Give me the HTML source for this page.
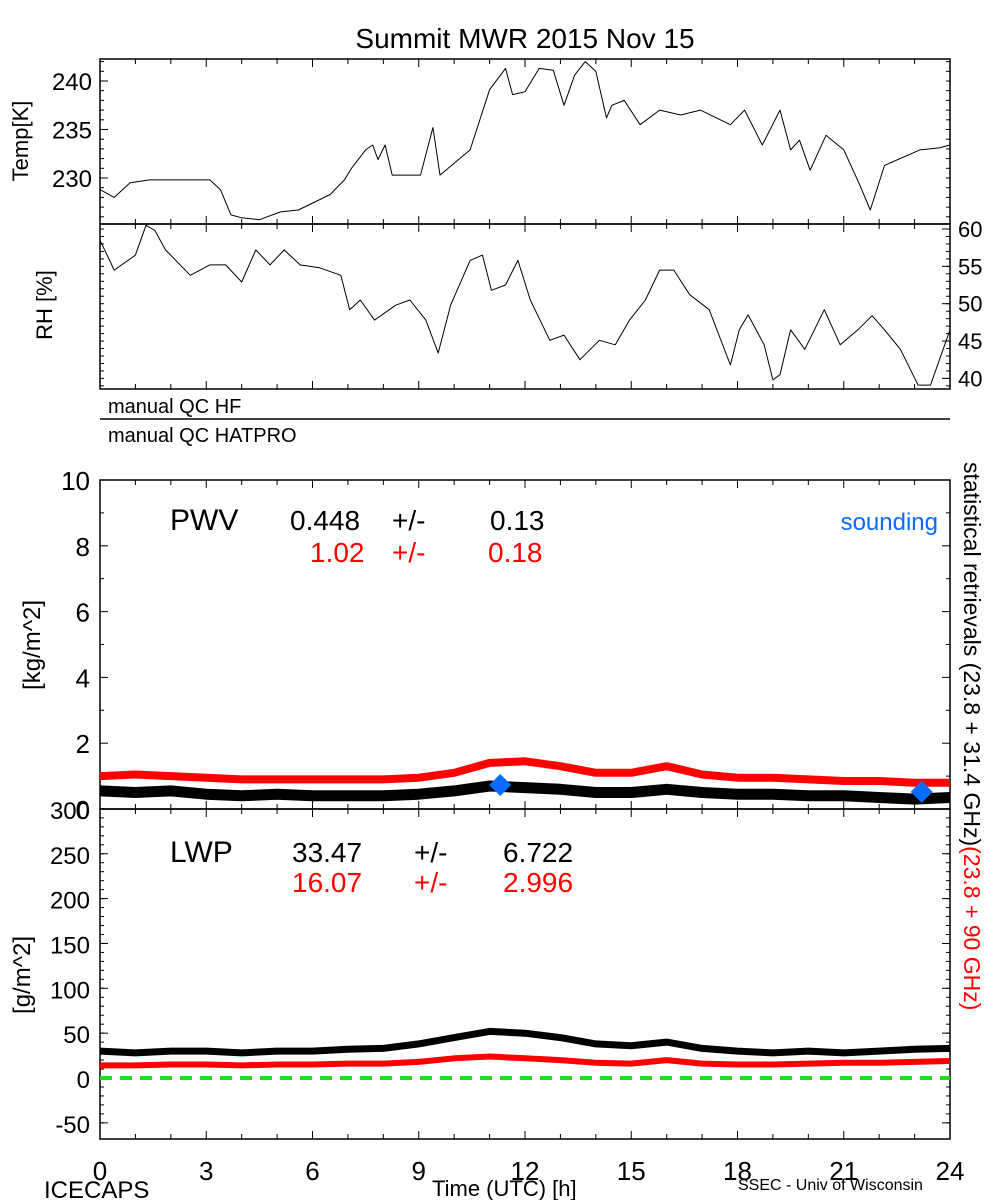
<!DOCTYPE html>
<html><head><meta charset="utf-8"><style>
html,body{margin:0;padding:0;background:#fff;}
svg{display:block;font-family:"Liberation Sans",sans-serif;}
</style></head><body>
<svg id="chart" width="1000" height="1200" viewBox="0 0 1000 1200">
<text x="525" y="48" font-size="28" text-anchor="middle">Summit MWR 2015 Nov 15</text>
</svg>
<script>
const hoursT=[0,0.4,0.85,1.4,3.1,3.4,3.7,4,4.5,5.1,5.6,6.5,6.9,7.1,7.5,7.7,7.85,8.05,8.25,9.05,9.4,9.6,10.45,11,11.45,11.65,12,12.4,12.8,13.1,13.4,13.7,14,14.3,14.45,14.8,15.25,15.8,16.4,16.95,17.8,18.2,18.7,19.2,19.5,19.75,20.05,20.5,21,21.45,21.75,22.15,23.15,23.7,24];
const tempK=[228.8,228,229.5,229.8,229.8,228.8,226.2,225.9,225.7,226.5,226.7,228.3,229.8,231,232.9,233.4,231.9,233.4,230.3,230.3,235.2,230.3,232.9,239.1,241.3,238.6,238.9,241.3,241.1,237.5,240.6,242,241,236.2,237.5,238,235.5,237,236.5,237,235.5,237,233.4,237,232.9,233.9,230.8,234.4,232.9,229.3,226.7,231.3,232.9,233.1,233.4];
const hoursRH=[0,0.4,1,1.3,1.55,1.85,2.55,3.1,3.55,4,4.4,4.8,5.2,5.65,6.2,6.8,7.05,7.35,7.75,8.35,8.75,9.2,9.55,9.9,10.45,10.8,11.05,11.45,11.8,12.15,12.7,13.1,13.55,14.1,14.55,14.95,15.4,15.8,16.2,16.65,17.2,17.8,18.05,18.3,18.75,19,19.2,19.5,19.9,20.45,20.9,21.4,21.8,22.15,22.6,23.1,23.45,24];
const rhPct=[58.5,54.5,56.5,60.5,59.8,57.2,53.8,55.2,55.2,52.9,57.2,55.2,57.2,55.2,54.8,53.8,49.2,50.5,47.8,49.8,50.5,47.8,43.4,49.8,55.8,56.5,51.8,52.5,55.8,50.5,45.1,45.8,42.5,45.1,44.5,47.8,50.5,54.5,54.5,51.2,49.2,41.8,46.5,48.5,44.5,39.8,40.5,46.5,43.9,49.2,44.5,46.5,48.4,46.5,43.9,39.1,39.1,46.5];
const hoursH=[0,1,2,3,4,5,6,7,8,9,10,11,12,13,14,15,16,17,18,19,20,21,22,23,24];
const pwvHF=[0.55,0.5,0.55,0.45,0.4,0.45,0.4,0.4,0.4,0.45,0.55,0.7,0.65,0.6,0.5,0.5,0.6,0.5,0.45,0.45,0.4,0.4,0.35,0.3,0.35];
const pwvHAT=[1.0,1.05,1.0,0.95,0.9,0.9,0.9,0.9,0.9,0.95,1.1,1.4,1.45,1.3,1.1,1.1,1.3,1.05,0.95,0.95,0.9,0.85,0.85,0.8,0.8];
const soundHours=[11.3,23.2];
const soundPwv=[0.73,0.52];
const lwpHF=[30,28,30,30,28,30,30,32,33,38,45,52,50,45,38,36,40,33,30,28,30,28,30,32,33];
const lwpHAT=[14,14,15,15,14,15,15,16,16,18,22,24,22,20,17,16,20,16,15,15,16,17,17,18,19];
const xTicks=[0,3,6,9,12,15,18,21,24];
const tempTicks=[230,235,240];
const rhTicks=[40,45,50,55,60];
const pwvTicks=[0,2,4,6,8,10];
const lwpTicks=[-50,0,50,100,150,200,250,300];

const NS="http://www.w3.org/2000/svg";
const svg=document.getElementById('chart');
const X0=100,X1=950;
const xs=h=>X0+(X1-X0)*h/24;
const yT=v=>178-(v-230)*9.7;
const yRH=v=>229+(60-v)*7.47;
const yP=v=>809-v*32.9;
const yL=v=>1078-v*0.897;
function el(tag,attrs,parent){const e=document.createElementNS(NS,tag);for(const k in attrs)e.setAttribute(k,attrs[k]);(parent||svg).appendChild(e);return e;}
function txt(x,y,s,size,anchor,fill){const t=el('text',{x:x,y:y,'font-size':size,'text-anchor':anchor||'start',fill:fill||'#000'});t.textContent=s;return t;}
function line(x1,y1,x2,y2,w,c){return el('line',{x1:x1,y1:y1,x2:x2,y2:y2,stroke:c||'#000','stroke-width':w||1});}
function path(xsArr,ysArr,yf,color,w,name){let d='';for(let i=0;i<xsArr.length;i++){d+=(i?'L':'M')+xs(xsArr[i]).toFixed(1)+','+yf(ysArr[i]).toFixed(1);}const p=el('path',{d:d,fill:'none',stroke:color,'stroke-width':w,'stroke-linejoin':'round'});


return p;}
function frame(top,bot,name){const r=el('rect',{x:X0,y:top,width:X1-X0,height:bot-top,fill:'none',stroke:'#000','stroke-width':1.5});


for(let h=0;h<=24;h++){const L=(h%3==0)?8:5;line(xs(h),top,xs(h),top+L);line(xs(h),bot,xs(h),bot-L);}}
function stat(parts,xsPos,y,color,name){parts.forEach((s,i)=>{const t=txt(xsPos[i],y,s,28,'start',color);

});}

// Temp panel
frame(59,224,'temp-panel');
tempTicks.forEach(v=>{line(X0,yT(v),X0+8,yT(v));const t=txt(92,yT(v)+9,String(v),24,'end');

});
for(let v=226;v<=242;v++){line(X0,yT(v),X0+4,yT(v));line(X1,yT(v),X1-4,yT(v));}
{const t=txt(0,0,'Temp[K]',22,'middle');t.setAttribute('transform','translate(28,141) rotate(-90)');

}
path(hoursT,tempK,yT,'#000',1,'temp-line');

// RH panel
frame(224,389,'rh-panel');
rhTicks.forEach(v=>{line(X1,yRH(v),X1-8,yRH(v));const t=txt(958,yRH(v)+8,String(v),22,'start');

});
for(let v=39;v<=60;v++){line(X0,yRH(v),X0+4,yRH(v));line(X1,yRH(v),X1-4,yRH(v));}
{const t=txt(0,0,'RH [%]',22,'middle');t.setAttribute('transform','translate(52,305) rotate(-90)');

}
path(hoursRH,rhPct,yRH,'#000',1,'rh-line');

// QC bands
{let t=txt(108,413,'manual QC HF',20);
line(X0,419,X1,419,1.5);
t=txt(108,442,'manual QC HATPRO',20);}

// PWV panel
frame(480,809,'pwv-panel');
pwvTicks.forEach(v=>{line(X0,yP(v),X0+8,yP(v));line(X1,yP(v),X1-8,yP(v));const t=txt(90,yP(v)+10,String(v),26,'end');

});
for(let v=1;v<10;v+=2){line(X0,yP(v),X0+4,yP(v));line(X1,yP(v),X1-4,yP(v));}
{const t=txt(0,0,'[kg/m^2]',24,'middle');t.setAttribute('transform','translate(40,645) rotate(-90)');

}
path(hoursH,pwvHAT,yP,'#ff0000',8,'pwv-hatpro-line');
path(hoursH,pwvHF,yP,'#000',11,'pwv-hf-line');
soundHours.forEach((h,i)=>{const cx=xs(h),cy=yP(soundPwv[i]);const d=el('polygon',{points:`${cx},${cy-11} ${cx+11},${cy} ${cx},${cy+11} ${cx-11},${cy}`,fill:'#0a6cff'});

});
{let t=txt(170,530,'PWV',30);
t=txt(938,530,'sounding',24,'end','#0a6cff');}
stat(['0.448','+/-','0.13'],[290,392,490],530,'#000','pwv-hf-stats');
stat(['1.02','+/-','0.18'],[310,392,488],562,'#ff0000','pwv-hatpro-stats');

// LWP panel
frame(809,1139,'lwp-panel');
lwpTicks.forEach(v=>{line(X0,yL(v),X0+8,yL(v));line(X1,yL(v),X1-8,yL(v));const t=txt(90,yL(v)+10,String(v),24,'end');

});
for(let v=-50;v<=300;v+=10){line(X0,yL(v),X0+4,yL(v));line(X1,yL(v),X1-4,yL(v));}
{const t=txt(0,0,'[g/m^2]',24,'middle');t.setAttribute('transform','translate(30,975) rotate(-90)');

}
{const z=line(X0,yL(0),X1,yL(0),4,'#22dd22');z.setAttribute('stroke-dasharray','12,8');

}
path(hoursH,lwpHAT,yL,'#ff0000',6,'lwp-hatpro-line');
path(hoursH,lwpHF,yL,'#000',7,'lwp-hf-line');
{let t=txt(170,862,'LWP',30);}
stat(['33.47','+/-','6.722'],[292,414,503],862,'#000','lwp-hf-stats');
stat(['16.07','+/-','2.996'],[292,414,503],892,'#ff0000','lwp-hatpro-stats');

// right vertical label
{const t=el('text',{'font-size':23,transform:'translate(964,462) rotate(90)'});


const a=el('tspan',{fill:'#000'},t);a.textContent='statistical retrievals (23.8 + 31.4 GHz)';
const b=el('tspan',{fill:'#ff0000'},t);b.textContent='(23.8 + 90 GHz)';}

// x axis labels
xTicks.forEach(h=>{const t=txt(xs(h),1180,String(h),26,'middle');

});
{let t=txt(44,1198,'ICECAPS',24);
t=txt(432,1196,'Time (UTC) [h]',22);
t=txt(738,1190,'SSEC - Univ of Wisconsin',16);}
</script>
</body></html>
